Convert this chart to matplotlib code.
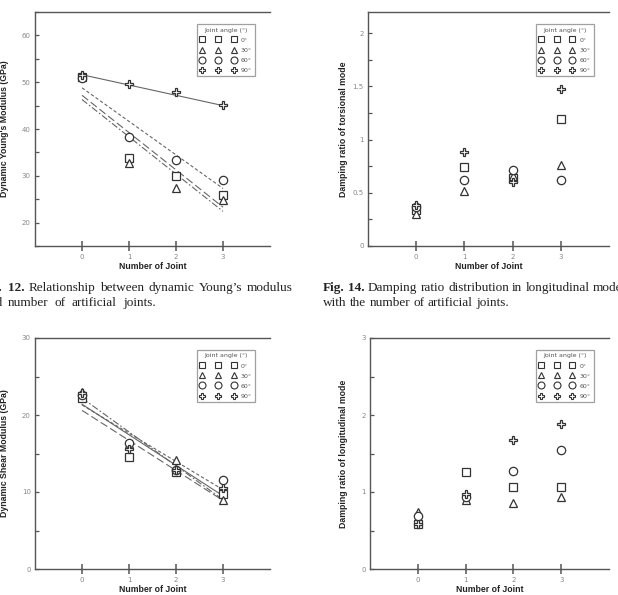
import matplotlib
matplotlib.use("Agg")
import matplotlib.pyplot as plt
from matplotlib.lines import Line2D
from matplotlib.ticker import MultipleLocator, FormatStrFormatter

W, H = 618, 595
INK = "#333333"
TICK_GRAY = "#888888"

joints = [0, 1, 2, 3]
angle_labels = ["0°", "30°", "60°", "90°"]
markers = ["s", "^", "o", "P"]

# Fig. 12 - dynamic Young's modulus (GPa)
young_0 = [51.2, 33.8, 29.9, 26.0]
young_30 = [51.3, 32.7, 27.5, 24.9]
young_60 = [51.0, 38.2, 33.4, 29.2]
young_90 = [51.5, 49.7, 47.9, 45.1]
# regression lines (value at 0 and at 3 joints)
young_fit_0 = [47.2, 23.3]
young_fit_30 = [46.3, 22.4]
young_fit_60 = [48.8, 27.3]
young_fit_90 = [51.6, 45.0]

# Fig. 14 - damping ratio of torsional mode
tors_0 = [0.34, 0.74, 0.64, 1.19]
tors_30 = [0.30, 0.52, 0.66, 0.76]
tors_60 = [0.37, 0.62, 0.71, 0.62]
tors_90 = [0.39, 0.88, 0.60, 1.48]

# dynamic shear modulus (GPa)
shear_0 = [22.2, 14.5, 12.6, 9.8]
shear_30 = [23.0, 16.2, 14.1, 9.0]
shear_60 = [22.6, 16.3, 12.9, 11.5]
shear_90 = [22.8, 15.6, 12.8, 10.5]
shear_fit_0 = [20.6, 8.9]
shear_fit_30 = [22.2, 9.0]
shear_fit_60 = [21.3, 10.3]
shear_fit_90 = [21.4, 9.5]

# damping ratio of longitudinal mode
long_0 = [0.58, 1.26, 1.06, 1.06]
long_30 = [0.74, 0.89, 0.86, 0.93]
long_60 = [0.69, 0.93, 1.27, 1.54]
long_90 = [0.59, 0.97, 1.67, 1.88]

fit_styles = [(0, (7, 3)), (0, (6, 2, 1.5, 2)), (0, (3, 2)), "-"]
fit_ends = [joints[0], joints[-1]]


def draw_panel(ax, series, ylim, major, minor, fmt, ylabel, fits=None):
    if fits:
        for f, ls in zip(fits, fit_styles):
            ax.plot(fit_ends, f, color="#666666", lw=0.8, ls=ls, zorder=2)
    for vals, m in zip(series, markers):
        ax.plot(joints, vals, ls="none", marker=m, ms=6, mfc="white",
                mec=INK, mew=0.9, zorder=3)

    ax.set_xlim(-1, 4)
    ax.set_ylim(*ylim)
    ax.set_xticks(joints)
    ax.yaxis.set_major_locator(MultipleLocator(major))
    ax.yaxis.set_minor_locator(MultipleLocator(minor))
    ax.yaxis.set_major_formatter(FormatStrFormatter(fmt))
    ax.tick_params(axis="x", direction="inout", length=7, width=1.1,
                   color="#555555", labelsize=5, labelcolor=TICK_GRAY, pad=2)
    ax.tick_params(axis="y", which="both", direction="in", length=3, width=0.9,
                   color="#555555", labelsize=5, labelcolor=TICK_GRAY, pad=3)
    for s in ["left", "top", "bottom"]:
        ax.spines[s].set_color("#555555")
        ax.spines[s].set_linewidth(1.0)
    ax.spines["right"].set_visible(False)

    ax.set_xlabel("Number of Joint", fontsize=6.3, fontweight="bold",
                  family="Liberation Sans", color="#222222")
    ax.set_ylabel(ylabel, fontsize=6.3, fontweight="bold",
                  family="Liberation Sans", color="#222222")

    handles = [Line2D([], [], ls="none", marker=m, ms=5, mfc="white",
                      mec=INK, mew=0.8) for m in markers]
    leg = ax.legend(handles, angle_labels, title="Joint angle (°)",
                    numpoints=3, handlelength=5.6, handletextpad=0.9,
                    fontsize=4.5, title_fontsize=4.5, loc="upper right",
                    bbox_to_anchor=(0.95, 0.96), frameon=True, fancybox=False,
                    edgecolor="#888888", labelspacing=0.75, borderpad=0.5)
    leg.get_frame().set_linewidth(0.9)
    for t in leg.get_texts():
        t.set_color("#555555")
    leg.get_title().set_color("#555555")


def place_words(fig, words, x0, y, last_x, size=9.5):
    renderer = fig.canvas.get_renderer()
    texts = []
    for w, bold in words:
        t = fig.text(0, 1 - y / H, w, fontsize=size, family="Liberation Serif",
                     fontweight="bold" if bold else "normal", va="baseline",
                     ha="left", color="#222222")
        texts.append(t)
    widths = [t.get_window_extent(renderer).width for t in texts]
    gap = (last_x - x0 - sum(widths[:-1])) / (len(words) - 1)
    x = x0
    for t, w in zip(texts, widths):
        t.set_x(x / W)
        x += w + gap


fig = plt.figure(figsize=(W / 100, H / 100), dpi=100)
fig.patch.set_facecolor("white")

ax1 = fig.add_axes([35 / W, 1 - 246 / H, 235 / W, 234 / H])
ax2 = fig.add_axes([368 / W, 1 - 246 / H, 241 / W, 234 / H])
ax3 = fig.add_axes([35 / W, 1 - 569 / H, 235 / W, 231 / H])
ax4 = fig.add_axes([370 / W, 1 - 569 / H, 239 / W, 231 / H])

draw_panel(ax1, [young_0, young_30, young_60, young_90], (15, 65), 10, 5, "%g",
           "Dynamic Young's Modulus (GPa)",
           fits=[young_fit_0, young_fit_30, young_fit_60, young_fit_90])
draw_panel(ax2, [tors_0, tors_30, tors_60, tors_90], (0, 2.2), 0.5, 0.25, "%g",
           "Damping ratio of torsional mode")
draw_panel(ax3, [shear_0, shear_30, shear_60, shear_90], (0, 30), 10, 5, "%g",
           "Dynamic Shear Modulus (GPa)",
           fits=[shear_fit_0, shear_fit_30, shear_fit_60, shear_fit_90])
draw_panel(ax4, [long_0, long_30, long_60, long_90], (0, 3), 1, 0.5, "%g",
           "Damping ratio of longitudinal mode")

for ax, ylx, ax_left, ax_w in [(ax1, 9, 35, 235), (ax2, 348, 368, 241),
                               (ax3, 9, 35, 235), (ax4, 348, 370, 239)]:
    ax.yaxis.set_label_coords((ylx - ax_left) / ax_w, 0.5)
    ax.xaxis.set_label_coords(0.5, -0.068)

fig.canvas.draw()

# captions (cut by the page crop, like the scan)
fig.text(2.5 / W, 1 - 291 / H, "Fig.", fontsize=9.5, family="Liberation Serif",
         fontweight="bold", ha="right", va="baseline", color="#222222")
place_words(fig, [("12.", True), ("Relationship", False), ("between", False),
                  ("dynamic", False), ("Young’s", False), ("modulus", False)],
            8, 291, 247)
fig.text(3 / W, 1 - 306.5 / H, "and", fontsize=9.5, family="Liberation Serif",
         ha="right", va="baseline", color="#222222")
place_words(fig, [("number", False), ("of", False), ("artificial", False),
                  ("joints.", False)], 8, 306.5, 123)
place_words(fig, [("Fig.", True), ("14.", True), ("Damping", False),
                  ("ratio", False), ("distribution", False), ("in", False),
                  ("longitudinal", False), ("mode", False)], 323, 291, 593)
place_words(fig, [("with", False), ("the", False), ("number", False),
                  ("of", False), ("artificial", False), ("joints.", False)],
            323, 306.5, 476)

fig.savefig("out.png", dpi=100)
